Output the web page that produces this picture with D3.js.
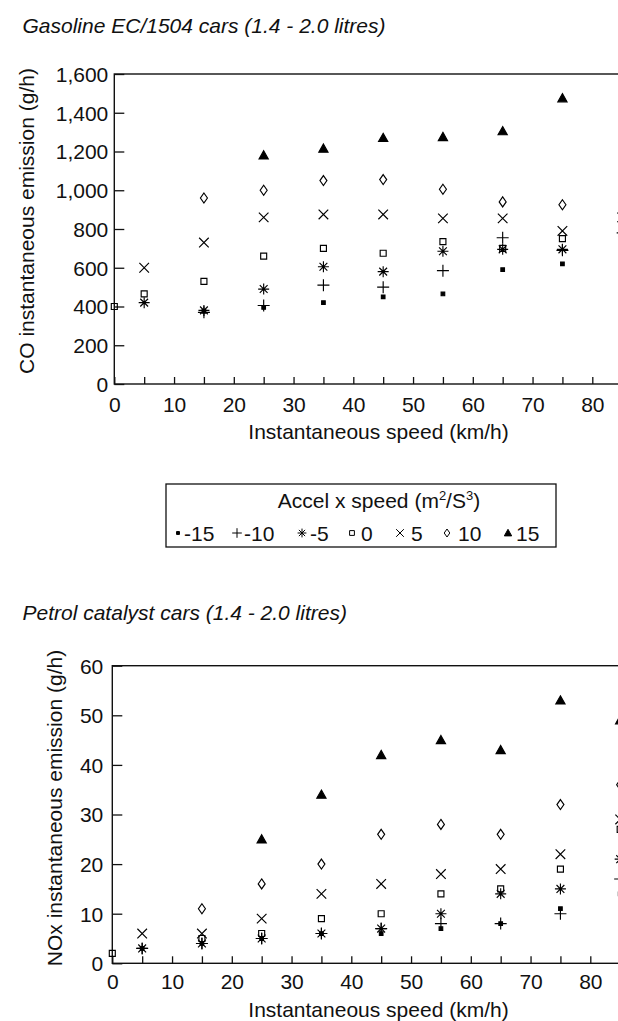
<!DOCTYPE html>
<html><head><meta charset="utf-8">
<script src="https://cdn.jsdelivr.net/npm/d3@7"></script>
<style>
body{margin:0;background:#fff}
svg{display:block;background:#fff}
text{font-family:"Liberation Sans",Arial,Helvetica,sans-serif;fill:#111}
</style>
</head><body>
<svg id="c" width="618" height="1021"></svg>
<script>
// ---- data ----
const speeds = [0, 5, 15, 25, 35, 45, 55, 65, 75, 85];
const accelLevels = ["-15", "-10", "-5", "0", "5", "10", "15"];

// CO instantaneous emission (g/h), gasoline EC/1504 cars
const coM15 = [null, null, 375, 395, 420, 450, 465, 590, 620, null];
const coM10 = [null, null, 370, 405, 510, 500, 585, 755, 690, null];
const coM5  = [null, 420, 380, 490, 605, 580, 685, 695, 695, 780];
const coZ0  = [400, 465, 530, 660, 700, 675, 735, 700, 750, 820];
const coP5  = [null, 600, 730, 860, 875, 875, 855, 855, 790, 860];
const coP10 = [null, null, 960, 1000, 1050, 1055, 1005, 940, 925, 935];
const coP15 = [null, null, null, 1180, 1215, 1270, 1275, 1305, 1475, null];

// NOx instantaneous emission (g/h), petrol catalyst cars
const noxM15 = [null, 3, 4, 5, 6, 6, 7, 8, 11, 14];
const noxM10 = [null, 3, 4, 5, 6, 7, 8, 8, 10, 17];
const noxM5  = [null, 3, 4, 5, 6, 7, 10, 14, 15, 21];
const noxZ0  = [2, null, 5, 6, 9, 10, 14, 15, 19, 27];
const noxP5  = [null, 6, 6, 9, 14, 16, 18, 19, 22, 29];
const noxP10 = [null, null, 11, 16, 20, 26, 28, 26, 32, 36];
const noxP15 = [null, null, null, 25, 34, 42, 45, 43, 53, 49];

const xTicks = [0, 5, 10, 15, 20, 25, 30, 35, 40, 45, 50, 55, 60, 65, 70, 75, 80, 85];
const xLabels = [0, 10, 20, 30, 40, 50, 60, 70, 80];
const coTicks = [0, 200, 400, 600, 800, 1000, 1200, 1400, 1600];
const noxTicks = [0, 10, 20, 30, 40, 50, 60];

// ---- marker shapes ----
function markerPath(level, s) {
  s = s || 1;
  const f = v => (v * s).toFixed(2);
  switch (level) {
    case "-15": return `M${f(-1.8)},${f(-1.8)}H${f(1.8)}V${f(1.8)}H${f(-1.8)}Z`;
    case "-10": return `M${f(-6)},0H${f(6)}M0,${f(-6)}V${f(6)}`;
    case "-5":  return `M${f(-5.5)},0H${f(5.5)}M0,${f(-5.5)}V${f(5.5)}M${f(-3.9)},${f(-3.9)}L${f(3.9)},${f(3.9)}M${f(-3.9)},${f(3.9)}L${f(3.9)},${f(-3.9)}`;
    case "0":   return `M${f(-3)},${f(-3)}H${f(3)}V${f(3)}H${f(-3)}Z`;
    case "5":   return `M${f(-4.8)},${f(-4.8)}L${f(4.8)},${f(4.8)}M${f(-4.8)},${f(4.8)}L${f(4.8)},${f(-4.8)}`;
    case "10":  return `M0,${f(-5)}L${f(3.5)},0L0,${f(5)}L${f(-3.5)},0Z`;
    case "15":  return `M0,${f(-4.6)}L${f(4.6)},${f(3.6)}L${f(-4.6)},${f(3.6)}Z`;
  }
}
function markerFill(level) { return (level === "-15" || level === "15") ? "#000" : "none"; }

const svg = d3.select("#c");

function drawPanel(cfg) {
  const x = d3.scaleLinear().domain([0, 90]).range([cfg.left, cfg.left + 90 * 5.975]);
  const y = d3.scaleLinear().domain([0, cfg.ymax]).range([cfg.bottom, cfg.top]);
  const g = svg.append("g");

  // title
  g.append("text").attr("x", 22.5).attr("y", cfg.titleY)
    .attr("font-size", 21).attr("font-style", "italic").text(cfg.title);

  // frame
  g.append("rect").attr("x", x(0)).attr("y", y(cfg.ymax))
    .attr("width", x(90) - x(0)).attr("height", y(0) - y(cfg.ymax))
    .attr("fill", "none").attr("stroke", "#111").attr("stroke-width", 1.4);

  // x axis
  const xa = g.append("g").attr("transform", `translate(0,${y(0)})`)
    .call(d3.axisBottom(x).tickValues(xTicks).tickSize(-7).tickPadding(cfg.xPad)
      .tickFormat(d => xLabels.includes(d) ? String(d) : ""));
  xa.select(".domain").remove();
  xa.selectAll("line").attr("stroke", "#111").attr("stroke-width", 1.3);
  xa.selectAll("text").attr("font-size", 21).attr("fill", "#111")
    .attr("font-family", '"Liberation Sans",Arial,sans-serif');

  // y axis
  const ya = g.append("g").attr("transform", `translate(${x(0)},0)`)
    .call(d3.axisLeft(y).tickValues(cfg.yTicks).tickSize(-10).tickPadding(cfg.yPad)
      .tickFormat(cfg.yFormat));
  ya.select(".domain").remove();
  ya.selectAll("line").attr("stroke", "#111").attr("stroke-width", 1.3);
  ya.selectAll("text").attr("font-size", 21).attr("fill", "#111").attr("dy", "0.35em")
    .attr("font-family", '"Liberation Sans",Arial,sans-serif');

  // axis titles
  g.append("text").attr("x", 378.5).attr("y", cfg.xTitleY).attr("text-anchor", "middle")
    .attr("font-size", 21).text("Instantaneous speed (km/h)");
  g.append("text").attr("transform", `translate(${cfg.yTitleX},${cfg.yTitleY}) rotate(-90)`)
    .attr("text-anchor", "middle").attr("font-size", 21).text(cfg.yTitle);

  // points
  cfg.series.forEach((vals, i) => {
    const level = accelLevels[i];
    const pts = speeds.map((s, j) => ({ s, v: vals[j] })).filter(p => p.v != null);
    g.append("g").selectAll("path").data(pts).join("path")
      .attr("transform", p => `translate(${x(p.s)},${y(p.v)})`)
      .attr("d", markerPath(level))
      .attr("fill", markerFill(level))
      .attr("stroke", "#000").attr("stroke-width", 1.15);
  });
}

drawPanel({
  title: "Gasoline EC/1504 cars (1.4 - 2.0 litres)", titleY: 32.5,
  left: 114.3, top: 74, bottom: 384, ymax: 1600, yTicks: coTicks,
  yFormat: d3.format(","), xPad: 13, yPad: 6,
  xTitleY: 439, yTitleX: 33.5, yTitleY: 221,
  yTitle: "CO instantaneous emission (g/h)",
  series: [coM15, coM10, coM5, coZ0, coP5, coP10, coP15]
});

drawPanel({
  title: "Petrol catalyst cars (1.4 - 2.0 litres)", titleY: 620,
  left: 112.3, top: 665.7, bottom: 963.3, ymax: 60, yTicks: noxTicks,
  yFormat: d3.format("d"), xPad: 11, yPad: 9,
  xTitleY: 1017, yTitleX: 61.5, yTitleY: 808,
  yTitle: "NOx instantaneous emission (g/h)",
  series: [noxM15, noxM10, noxM5, noxZ0, noxP5, noxP10, noxP15]
});

// ---- legend ----
const lg = svg.append("g");
lg.append("rect").attr("x", 166).attr("y", 484).attr("width", 390).attr("height", 63)
  .attr("fill", "#fff").attr("stroke", "#111").attr("stroke-width", 1.3);
const lt = lg.append("text").attr("x", 379).attr("y", 508).attr("text-anchor", "middle").attr("font-size", 21);
lt.append("tspan").text("Accel x speed (m");
lt.append("tspan").attr("font-size", 13).attr("dy", -8).text("2");
lt.append("tspan").attr("dy", 8).text("/S");
lt.append("tspan").attr("font-size", 13).attr("dy", -8).text("3");
lt.append("tspan").attr("dy", 8).text(")");

const legendMarkX = [178, 237, 302, 352, 400, 447, 508];
const legendTextX = [184, 244, 310, 361, 411, 458, 516];
accelLevels.forEach((level, i) => {
  lg.append("path").attr("transform", `translate(${legendMarkX[i]},533)`)
    .attr("d", markerPath(level, 0.8)).attr("fill", markerFill(level))
    .attr("stroke", "#000").attr("stroke-width", 1);
  lg.append("text").attr("x", legendTextX[i]).attr("y", 540.5).attr("font-size", 21).text(level);
});
</script>
</body></html>
